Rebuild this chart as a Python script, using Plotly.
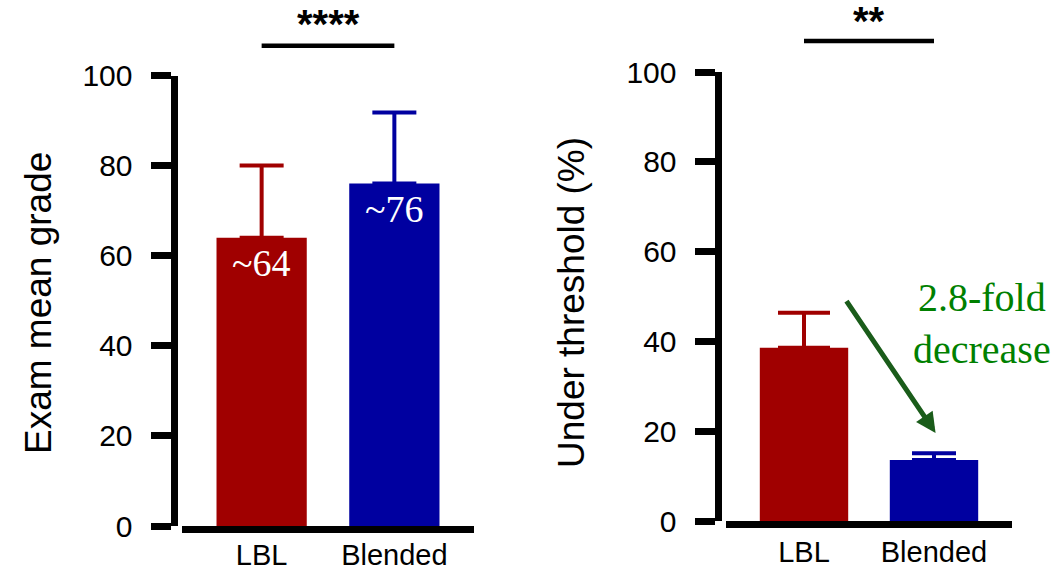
import plotly.graph_objects as go

# ---- data ----
categories = ["LBL", "Blended"]
grade_mean = [64, 76]
grade_err = [16, 15.8]
under_mean = [38.6, 13.6]
under_err = [7.8, 1.5]
grade_labels = ["~64", "~76"]
y_ticks = [0, 20, 40, 60, 80, 100]
bar_colors = ["#a00000", "#0000a0"]

W, H = 1059, 571
SANS = "Liberation Sans, Arial, sans-serif"
SERIF = "Liberation Serif, Times New Roman, serif"

fig = go.Figure()

cap_left = [22, 22]
cap_right = [26, 22]
for i, cat in enumerate(categories):
    fig.add_trace(go.Bar(
        x=[cat], y=[grade_mean[i]], width=0.68,
        marker=dict(color=bar_colors[i], line=dict(width=0)),
        error_y=dict(type="data", symmetric=False, array=[grade_err[i]], arrayminus=[0],
                     color=bar_colors[i], thickness=4, width=cap_left[i]),
        xaxis="x", yaxis="y", showlegend=False))
    fig.add_trace(go.Bar(
        x=[cat], y=[under_mean[i]], width=0.68,
        marker=dict(color=bar_colors[i], line=dict(width=0)),
        error_y=dict(type="data", symmetric=False, array=[under_err[i]], arrayminus=[0],
                     color=bar_colors[i], thickness=4, width=cap_right[i]),
        xaxis="x2", yaxis="y2", showlegend=False))

def px_x(p):
    return p / W

def px_y(p):
    return 1 - p / H

axis_common = dict(showgrid=False, zeroline=False, showline=True, linecolor="black",
                   linewidth=7, automargin=False)
xfont = dict(family=SANS, size=29, color="black")
yfont = dict(family=SANS, size=30, color="black")
fig.update_layout(
    width=W, height=H,
    margin=dict(l=0, r=0, t=0, b=0, pad=0),
    paper_bgcolor="white", plot_bgcolor="white",
    barmode="overlay",
    xaxis=dict(axis_common, type="category", categoryorder="array", categoryarray=categories,
               range=[-0.6, 1.6], domain=[px_x(182), px_x(474)], anchor="y",
               ticks="", tickfont=xfont, ticklabelstandoff=-3),
    yaxis=dict(axis_common, range=[0, 100], domain=[px_y(526), px_y(75.5)], anchor="free",
               position=px_x(173.5), ticks="outside", ticklen=20, tickwidth=7, tickcolor="black",
               tickvals=y_ticks, tickfont=yfont, ticklabelstandoff=12),
    xaxis2=dict(axis_common, type="category", categoryorder="array", categoryarray=categories,
                range=[-0.6, 1.6], domain=[px_x(726), px_x(1012)], anchor="y2",
                ticks="", tickfont=xfont, ticklabelstandoff=-1),
    yaxis2=dict(axis_common, range=[0, 100], domain=[px_y(521), px_y(72)], anchor="free",
                position=px_x(717.5), ticks="outside", ticklen=20, tickwidth=7, tickcolor="black",
                tickvals=y_ticks, tickfont=yfont, ticklabelstandoff=12),
)

# axis titles
fig.add_annotation(text="Exam mean grade", xref="paper", yref="paper", x=px_x(38), y=px_y(303),
                   xanchor="center", yanchor="middle",
                   textangle=-90, showarrow=False, font=dict(family=SANS, size=37, color="black"))
fig.add_annotation(text="Under threshold (%)", xref="paper", yref="paper", x=px_x(571), y=px_y(303),
                   xanchor="center", yanchor="middle",
                   textangle=-90, showarrow=False, font=dict(family=SANS, size=37, color="black"))

# value labels in left bars
for i, cat in enumerate(categories):
    fig.add_annotation(text=grade_labels[i], xref="x", yref="y", x=cat, y=grade_mean[i],
                       yanchor="top", yshift=-2, showarrow=False,
                       font=dict(family=SERIF, size=38, color="white"))

# significance bars
sig = [("x", "y", "****", 1.066, 1.1676), ("x2", "y2", "**", 1.069, 1.167)]
for xr, yr, stars, yl, ys in sig:
    fig.add_shape(type="line", xref=xr, yref=yr + " domain", x0=categories[0], x1=categories[1],
                  y0=yl, y1=yl, line=dict(color="black", width=4.5))
    fig.add_annotation(text="<b>" + stars + "</b>", xref=xr, yref=yr + " domain", x=0.5, y=ys,
                       xanchor="center", yanchor="top",
                       showarrow=False, font=dict(family=SANS, size=40, color="black"))

# fold-change annotation
fold = under_mean[0] / under_mean[1]
fig.add_annotation(text=f"{fold:.1f}-fold<br>decrease", xref="paper", yref="paper",
                   x=px_x(982), y=px_y(323), xanchor="center", yanchor="middle",
                   showarrow=False, align="center",
                   font=dict(family=SERIF, size=40, color="#008000"))
fig.add_annotation(text="", xref="x2", yref="y2", axref="x2", ayref="y2",
                   x=1.012, y=19.6, ax=0.319, ay=49.3, showarrow=True,
                   arrowhead=2, arrowsize=0.8, arrowwidth=5, arrowcolor="#1a5c1a")

fig.write_html("out.html")
